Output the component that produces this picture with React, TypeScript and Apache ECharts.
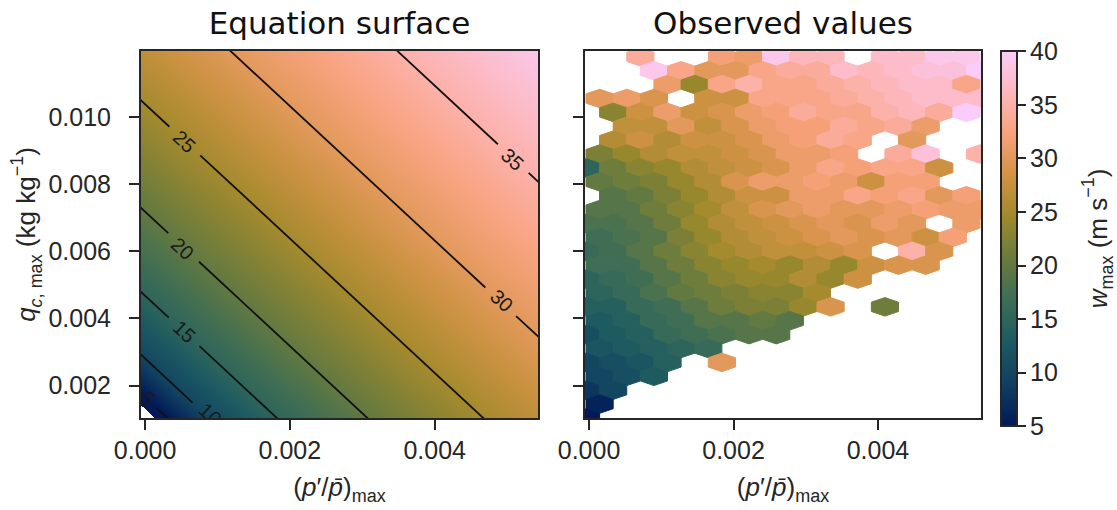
import React, { useEffect, useRef } from "react";
import * as echarts from "echarts";

// ---------- axes ----------
const X_MIN = -0.00007;
const X_MAX = 0.00544;
const Y_MIN = 0.001;
const Y_MAX = 0.01198;
const X_TICKS = [0, 0.002, 0.004];
const Y_TICKS = [0.002, 0.004, 0.006, 0.008, 0.01];
const W_MIN = 5;
const W_MAX = 40;
const W_STEP = 5;

// batlow colour map (10 key colours)
const BATLOW = ["#011959", "#103F60", "#1C5A62", "#3C6D56", "#687B3E", "#9D892B", "#D29343", "#F8A17B", "#FDB7BC", "#FACCFA"];

// ---------- equation surface ----------
const CONTOUR_LEVELS = [5, 10, 15, 20, 25, 30, 35];
// q where each contour crosses p = 0
const CONTOUR_Q_AT_P0 = [0.00165, 0.0028, 0.00467, 0.00717, 0.01037, 0.01431, 0.01892];
// common slope dq/dp of the (straight) contours
const CONTOUR_DQ_DP = -2.0;
// where the inline labels sit (data coordinates)
const CONTOUR_LABEL_P = [0.00004, 0.0009, 0.000542, 0.000517, 0.000542, 0.004926, 0.005074];
const CONTOUR_LABEL_Q = [0.00161, 0.00114, 0.0036, 0.006068, 0.009256, 0.004522, 0.008725];
// surface undefined below this contour intercept; top-right corner value
const SURFACE_UNDEFINED_Q_AT_P0 = 0.0013;
const SURFACE_CORNER_LEVEL = 39;
const SURFACE_CORNER_Q_AT_P0 = 0.0229;

// ---------- observed values (hexbin) ----------
const HEX_P_COL0 = 0.0018387; // p of column a = 0
const HEX_DP = 0.0001881; // half of the column spacing
const HEX_Q_ROW0 = 0.002684; // q of row b = 0
const HEX_DQ = 0.0004133; // row spacing
const HEX_FIRST_ROW = -22;
const _ = null;
// rows from top (b = -22) to bottom (b = 4); even rows start at a=-10, odd rows at a=-9, step 2
const HEX_ROWS: (number | null)[][] = [
  [_, _, 34, _, _, 32, 31, 39, 36, 36, _, 37, 37, 39, 39],
  [_, _, 39, 33, 30, 30, 33, 34, 34, 37, 36, 37, 38, 38, 40],
  [_, _, _, 31, 24, 33, 35, 33, 33, 34, 35, 36, 37, 37, 33],
  [30, 31, 29, _, 28, 28, 33, 33, 33, 34, 35, 36, 37, 37, 37],
  [_, 23, 28, 31, 28, 29, 31, 32, 34, 33, 33, 35, 36, 34, 40],
  [_, 27, 27, 30, 27, 29, 31, 32, 32, 34, 33, 34, 31, _, _],
  [_, 26, 28, 26, 28, 28, 29, 31, 32, 34, 33, _, 30, _, _],
  [22, 24, 26, 27, 27, 28, 29, 31, 31, 32, _, 34, 38, _, 35],
  [15, 21, 23, 24, 26, 27, 28, 29, 31, 33, 32, 33, 33, 28, _],
  [20, 21, 22, 24, 26, 29, 31, 31, 32, 31, 28, 32, 32, _, _],
  [_, 19, 20, 22, 24, 26, 28, 28, 31, 31, 33, 32, 33, 30, 32],
  [19, 19, 21, 23, 25, 27, 29, 30, 31, 30, 30, 31, 32, 31, 31],
  [18, 18, 19, 21, 24, 26, 27, 28, 29, 30, 29, 31, 30, _, 31],
  [17, 18, 19, 22, 24, 26, 27, 28, 29, 30, 29, 30, 28, 32, _],
  [16, 17, 19, 21, 23, 25, 26, 27, 27, 28, 29, _, 35, 29, _],
  [17, 17, 19, 21, 23, 24, 25, 24, 26, 24, 28, 29, 29, _, _],
  [15, 16, 17, 19, 21, 23, 24, 24, 26, 24, 28, _, _, _, _],
  [15, 16, 18, 20, 21, 22, 23, 23, 25, _, _, _, _, _, _],
  [14, 14, 16, 17, 19, 21, 22, 22, 24, 29, _, 21, _, _, _],
  [13, 14, 16, 17, 19, 19, 20, 19, _, _, _, _, _, _, _],
  [11, 13, 14, 16, 17, 18, 19, 19, _, _, _, _, _, _, _],
  [12, 13, 14, 15, 16, _, _, _, _, _, _, _, _, _, _],
  [10, 11, 12, 14, _, 30, _, _, _, _, _, _, _, _, _],
  [10, 11, 13, _, _, _, _, _, _, _, _, _, _, _, _],
  [8, 10, _, _, _, _, _, _, _, _, _, _, _, _, _],
  [6, _, _, _, _, _, _, _, _, _, _, _, _, _, _],
  [5, _, _, _, _, _, _, _, _, _, _, _, _, _, _],
];

// ---------- helpers ----------
function hexToRgb(h: string): number[] {
  const v = parseInt(h.slice(1), 16);
  return [(v >> 16) & 255, (v >> 8) & 255, v & 255];
}
const BATLOW_RGB = BATLOW.map(hexToRgb);
function batlowColor(w: number): string {
  const n = BATLOW_RGB.length - 1;
  const t = Math.min(1, Math.max(0, (w - W_MIN) / (W_MAX - W_MIN))) * n;
  const i = Math.min(n - 1, Math.floor(t));
  const f = t - i;
  const a = BATLOW_RGB[i];
  const b = BATLOW_RGB[i + 1];
  const c = a.map((x, k) => Math.round(x + (b[k] - x) * f));
  return `rgb(${c[0]},${c[1]},${c[2]})`;
}

function buildHexData(): number[][] {
  const out: number[][] = [];
  HEX_ROWS.forEach((row, r) => {
    const b = HEX_FIRST_ROW + r;
    const aStart = b % 2 === 0 ? -10 : -9;
    row.forEach((w, k) => {
      if (w == null) return;
      const a = aStart + 2 * k;
      out.push([HEX_P_COL0 + a * HEX_DP, HEX_Q_ROW0 - b * HEX_DQ, w]);
    });
  });
  return out;
}

const INK = "#262626";
const TICK_FONT = "'Liberation Sans', Arial, sans-serif";
const TICK_SIZE = 25;
const axisLine = { show: true, onZero: false, lineStyle: { color: INK, width: 2 } };
const axisTick = (vals?: number[], len = 11) => ({
  show: true,
  length: len,
  lineStyle: { color: INK, width: 2 },
  ...(vals ? { customValues: vals } : {}),
});
const richName = {
  i: { fontStyle: "italic", fontSize: 26, fontFamily: TICK_FONT, color: INK },
  s: { fontSize: 18, fontFamily: TICK_FONT, color: INK, padding: [19, 0, 0, 0] },
  si: { fontSize: 18, fontStyle: "italic", fontFamily: TICK_FONT, color: INK, padding: [19, 0, 0, 0] },
  u: { fontSize: 18, fontFamily: TICK_FONT, color: INK, padding: [0, 0, 19, 0] },
};
const nameStyle = { fontSize: 26, fontFamily: TICK_FONT, color: INK, rich: richName };

function xAxes(grid: number, withName: boolean) {
  return [
    {
      type: "value",
      gridIndex: grid,
      position: "bottom",
      min: X_MIN,
      max: X_MAX,
      z: 5,
      axisLine,
      axisTick: axisTick(X_TICKS),
      axisLabel: {
        show: true,
        margin: 18,
        color: INK,
        fontSize: TICK_SIZE,
        fontFamily: TICK_FONT,
        customValues: X_TICKS,
        formatter: (v: number) => v.toFixed(3),
      },
      splitLine: { show: false },
      name: withName ? "({i|p}\u2032/{i|p\u0304}){s|max}" : "",
      nameLocation: "middle",
      nameGap: 49,
      nameTextStyle: nameStyle,
    },
    {
      type: "value",
      gridIndex: grid,
      position: "top",
      min: X_MIN,
      max: X_MAX,
      z: 5,
      axisLine,
      axisTick: { show: false },
      axisLabel: { show: false },
      splitLine: { show: false },
    },
  ];
}

function yAxes(grid: number, showLabels: boolean) {
  return [
    {
      type: "value",
      gridIndex: grid,
      position: "left",
      min: Y_MIN,
      max: Y_MAX,
      z: 5,
      axisLine,
      axisTick: axisTick(Y_TICKS),
      axisLabel: {
        show: showLabels,
        margin: 29,
        color: INK,
        fontSize: TICK_SIZE,
        fontFamily: TICK_FONT,
        customValues: Y_TICKS,
        formatter: (v: number) => v.toFixed(3),
      },
      splitLine: { show: false },
      name: showLabels ? "{i|q}{si|c}{s|, max} (kg kg{u|\u22121})" : "",
      nameLocation: "middle",
      nameGap: 93,
      nameTextStyle: nameStyle,
    },
    {
      type: "value",
      gridIndex: grid,
      position: "right",
      min: Y_MIN,
      max: Y_MAX,
      z: 5,
      axisLine,
      axisTick: { show: false },
      axisLabel: { show: false },
      splitLine: { show: false },
    },
  ];
}

export default function App() {
  const ref = useRef<HTMLDivElement>(null);

  useEffect(() => {
    if (!ref.current) return;
    const chart = echarts.init(ref.current, undefined, { renderer: "svg" });
    const hexData = buildHexData();

    const surfaceSeries = {
      type: "custom",
      xAxisIndex: 0,
      yAxisIndex: 0,
      clip: true,
      silent: true,
      z: 1,
      data: [[0, Y_MIN]],
      encode: { x: 0, y: 1 },
      renderItem: (params: any, api: any) => {
        const tl = api.coord([X_MIN, Y_MAX]);
        const br = api.coord([X_MAX, Y_MIN]);
        const a = api.coord([0, 0.002]);
        const bx = api.coord([0.002, 0.002]);
        const by = api.coord([0, 0.004]);
        const ux = (bx[0] - a[0]) / 0.002;
        const uy = (a[1] - by[1]) / 0.002;
        const gx = -CONTOUR_DQ_DP / ux;
        const gy = -1 / uy;
        const g2 = gx * gx + gy * gy;
        const sStart = 0.0005;
        const sEnd = SURFACE_CORNER_Q_AT_P0;
        const start = [a[0], a[1] + (0.002 - sStart) * uy];
        const k = (sEnd - sStart) / g2;
        const end = [start[0] + gx * k, start[1] + gy * k];
        const off = (s: number) => Math.min(1, Math.max(0, (s - sStart) / (sEnd - sStart)));
        const stops: any[] = [];
        stops.push({ offset: 0, color: "#ffffff" });
        stops.push({ offset: off(SURFACE_UNDEFINED_Q_AT_P0), color: "#ffffff" });
        stops.push({ offset: off(SURFACE_UNDEFINED_Q_AT_P0), color: batlowColor(W_MIN) });
        const L = [...CONTOUR_LEVELS, SURFACE_CORNER_LEVEL];
        const S = [...CONTOUR_Q_AT_P0, SURFACE_CORNER_Q_AT_P0];
        for (let i = 0; i < L.length; i++) {
          stops.push({ offset: off(S[i]), color: batlowColor(L[i]) });
          if (i < L.length - 1) {
            stops.push({ offset: off((S[i] + S[i + 1]) / 2), color: batlowColor((L[i] + L[i + 1]) / 2) });
          }
        }
        return {
          type: "rect",
          shape: { x: tl[0], y: tl[1], width: br[0] - tl[0], height: br[1] - tl[1] },
          style: {
            fill: { type: "linear", x: start[0], y: start[1], x2: end[0], y2: end[1], global: true, colorStops: stops },
          },
        };
      },
    };

    const contourSeries = {
      type: "custom",
      xAxisIndex: 0,
      yAxisIndex: 0,
      clip: true,
      silent: true,
      z: 3,
      data: CONTOUR_LEVELS.map((lv, i) => [CONTOUR_LABEL_P[i], CONTOUR_LABEL_Q[i], lv, CONTOUR_Q_AT_P0[i]]),
      encode: { x: 0, y: 1 },
      renderItem: (params: any, api: any) => {
        const lp = api.value(0);
        const lq = api.value(1);
        const lv = api.value(2);
        const q0 = api.value(3);
        const pA = X_MIN - 0.002;
        const pB = X_MAX + 0.002;
        const A = api.coord([pA, q0 + CONTOUR_DQ_DP * pA]);
        const B = api.coord([pB, q0 + CONTOUR_DQ_DP * pB]);
        const Lp = api.coord([lp, lq]);
        const dx = B[0] - A[0];
        const dy = B[1] - A[1];
        const len = Math.hypot(dx, dy);
        const ex = dx / len;
        const ey = dy / len;
        const t = (Lp[0] - A[0]) * ex + (Lp[1] - A[1]) * ey;
        const P = [A[0] + ex * t, A[1] + ey * t];
        const text = String(lv);
        const half = text.length > 1 ? 21 : 13;
        const lineStyle = { stroke: "#111111", lineWidth: 1.8 };
        return {
          type: "group",
          children: [
            { type: "line", shape: { x1: A[0], y1: A[1], x2: P[0] - ex * half, y2: P[1] - ey * half }, style: lineStyle },
            { type: "line", shape: { x1: P[0] + ex * half, y1: P[1] + ey * half, x2: B[0], y2: B[1] }, style: lineStyle },
            {
              type: "text",
              x: Lp[0],
              y: Lp[1],
              rotation: -Math.atan2(dy, dx),
              style: {
                text,
                x: 0,
                y: 0,
                fill: "#1a1a1a",
                fontSize: 20,
                fontFamily: TICK_FONT,
                align: "center",
                verticalAlign: "middle",
                textAlign: "center",
                textVerticalAlign: "middle",
              },
            },
          ],
        };
      },
    };

    const hexSeries = {
      type: "custom",
      xAxisIndex: 2,
      yAxisIndex: 2,
      clip: true,
      silent: true,
      z: 2,
      data: hexData,
      encode: { x: 0, y: 1 },
      renderItem: (params: any, api: any) => {
        const p = api.value(0);
        const q = api.value(1);
        const pts = [
          [p + HEX_DP, q - HEX_DQ / 3],
          [p + HEX_DP, q + HEX_DQ / 3],
          [p, q + (2 * HEX_DQ) / 3],
          [p - HEX_DP, q + HEX_DQ / 3],
          [p - HEX_DP, q - HEX_DQ / 3],
          [p, q - (2 * HEX_DQ) / 3],
        ].map((v) => api.coord(v));
        const color = api.visual("color");
        return { type: "polygon", shape: { points: pts }, style: { fill: color, stroke: color, lineWidth: 1 } };
      },
    };

    const colorbarSeries = {
      type: "custom",
      xAxisIndex: 4,
      yAxisIndex: 4,
      clip: true,
      silent: true,
      z: 2,
      data: [[0.5, (W_MIN + W_MAX) / 2]],
      encode: { x: 0, y: 1 },
      renderItem: (params: any, api: any) => {
        const a = api.coord([0, W_MIN]);
        const b = api.coord([1, W_MAX]);
        return {
          type: "rect",
          shape: { x: a[0], y: b[1], width: b[0] - a[0], height: a[1] - b[1] },
          style: {
            fill: {
              type: "linear",
              x: 0,
              y: 1,
              x2: 0,
              y2: 0,
              colorStops: BATLOW.map((c, i) => ({ offset: i / (BATLOW.length - 1), color: c })),
            },
          },
        };
      },
    };

    const titleStyle = {
      fontSize: 31,
      fontFamily: "'DejaVu Sans', sans-serif",
      fill: "#111111",
      align: "center",
      verticalAlign: "middle",
      textAlign: "center",
      textVerticalAlign: "middle",
    };

    const option: any = {
      animation: false,
      backgroundColor: "#ffffff",
      grid: [
        { left: 140, top: 50, width: 399, height: 376, containLabel: false },
        { left: 584, top: 50, width: 398, height: 376, containLabel: false },
        { left: 1001, top: 51, width: 23, height: 375, containLabel: false },
      ],
      xAxis: [
        ...xAxes(0, true),
        ...xAxes(1, true),
        {
          type: "value",
          gridIndex: 2,
          position: "bottom",
          min: 0,
          max: 1,
          z: 5,
          axisLine,
          axisTick: { show: false },
          axisLabel: { show: false },
          splitLine: { show: false },
        },
        {
          type: "value",
          gridIndex: 2,
          position: "top",
          min: 0,
          max: 1,
          z: 5,
          axisLine,
          axisTick: { show: false },
          axisLabel: { show: false },
          splitLine: { show: false },
        },
      ],
      yAxis: [
        ...yAxes(0, true),
        ...yAxes(1, false),
        {
          type: "value",
          gridIndex: 2,
          position: "right",
          min: W_MIN,
          max: W_MAX,
          interval: W_STEP,
          z: 5,
          axisLine,
          axisTick: axisTick(undefined, 9),
          axisLabel: { show: true, margin: 13, color: INK, fontSize: TICK_SIZE, fontFamily: TICK_FONT },
          splitLine: { show: false },
          name: "{i|w}{s|max} (m s{u|\u22121})",
          nameLocation: "middle",
          nameGap: 62,
          nameTextStyle: nameStyle,
        },
        {
          type: "value",
          gridIndex: 2,
          position: "left",
          min: W_MIN,
          max: W_MAX,
          z: 5,
          axisLine,
          axisTick: { show: false },
          axisLabel: { show: false },
          splitLine: { show: false },
        },
      ],
      visualMap: [
        {
          type: "continuous",
          show: false,
          seriesIndex: 2,
          dimension: 2,
          min: W_MIN,
          max: W_MAX,
          inRange: { color: BATLOW },
        },
      ],
      graphic: [
        { type: "text", x: 339.5, y: 23, style: { ...titleStyle, text: "Equation surface" } },
        { type: "text", x: 783, y: 23, style: { ...titleStyle, text: "Observed values" } },
      ],
      series: [surfaceSeries, contourSeries, hexSeries, colorbarSeries],
    };

    chart.setOption(option);
    return () => chart.dispose();
  }, []);

  return (
    <div
      ref={ref}
      style={{ position: "absolute", left: 0, top: 0, width: 1117, height: 510, background: "#fff" }}
    />
  );
}
